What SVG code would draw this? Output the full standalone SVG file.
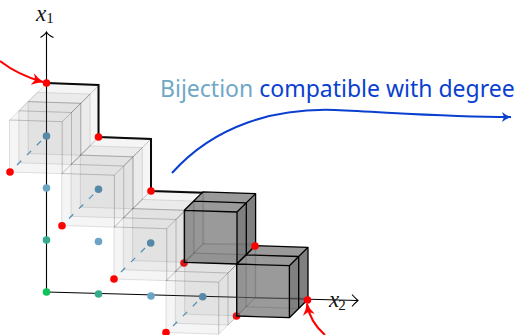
<svg xmlns="http://www.w3.org/2000/svg" width="516" height="335" viewBox="0 0 516 335">
<style>
.lf{fill:#777;fill-opacity:.04;stroke:#444;stroke-opacity:.15;stroke-width:1;stroke-linejoin:round}
.lh{fill:#777;fill-opacity:.04;stroke:none}
.dh{fill:none;stroke:#000;stroke-opacity:.13;stroke-width:1}
.df{fill:#666;fill-opacity:.66;stroke:none}
.ds{fill:#444;fill-opacity:.68;stroke:none}
.de{fill:none;stroke:#000;stroke-width:1.3;stroke-linejoin:round}
.ax{fill:none;stroke:#000;stroke-width:1.1}
.tip{fill:none;stroke:#000;stroke-width:1.1}
.red{fill:#f00}.blu{fill:#6aa5c6}.cen{fill:#4f8fb3}.tea{fill:#35ad8c}.grn{fill:#0fc35a}
.lab{font-family:"Liberation Serif",serif;font-style:italic;font-size:23px;fill:#111}
.sub{font-family:"Liberation Serif",serif;font-style:normal;font-size:15px;fill:#111}
.t{font-family:"Noto Sans",sans-serif;font-size:23px}
</style>
<defs>
<g id="lb">
<polygon class="lh" points="18.6,-18.4 71.3,-16.7 71.3,-68.7 18.6,-70.4"/>
<polygon class="lh" points="0,0 18.6,-18.4 71.3,-16.7 52.7,1.7"/>
<polygon class="lh" points="0,0 0,-52 18.6,-70.4 18.6,-18.4"/>
<polygon class="lf" points="0,-52 52.7,-50.3 71.3,-68.7 18.6,-70.4"/>
<polygon class="lf" points="52.7,1.7 71.3,-16.7 71.3,-68.7 52.7,-50.3"/>
<polygon class="lf" points="0,0 52.7,1.7 52.7,-50.3 0,-52"/>
</g>
<g id="stack">
<use href="#lb" x="18.6" y="-18.4"/>
<use href="#lb" x="9.3" y="-9.2"/>
<use href="#lb"/>
</g>
<g id="dstack">
<polygon class="df" points="0,-52 52.7,-50.3 71.3,-68.7 18.6,-70.4"/>
<polygon class="ds" points="52.7,1.7 71.3,-16.7 71.3,-68.7 52.7,-50.3"/>
<polygon class="df" points="0,0 52.7,1.7 52.7,-50.3 0,-52"/>
<path class="dh" d="M0,0 L18.6,-18.4 H71.3 M18.6,-18.4 V-70.4 M9.3,-9.2 L62,-7.5 M9.3,-9.2 V-61"/>
<path class="de" d="M0,0 L52.7,1.7 V-50.3 L0,-52 Z M0,-52 L18.6,-70.4 L71.3,-68.7 L52.7,-50.3 M71.3,-68.7 V-16.7 L52.7,1.7 M9.3,-61.2 L62,-59.5 L52.7,-50.3 M62,-59.5 V-7.5"/>
</g>
<marker id="ab" markerWidth="12" markerHeight="12" refX="10" refY="6" orient="auto" markerUnits="userSpaceOnUse"><path d="M1,1 Q5,4.5 10.5,6 Q5,7.5 1,11 L3,6Z" fill="#0a3fd0"/></marker>
<marker id="ar" markerWidth="14" markerHeight="14" refX="11" refY="7" orient="auto" markerUnits="userSpaceOnUse"><path d="M0,1 Q5,5 12,7 Q5,9 0,13 L3,7Z" fill="#f00"/></marker>
</defs>

<g id="connectors">
<path id="axis-x1" class="ax" d="M46.5,292 V33"/>
<path class="tip" d="M40.5,37.5 Q45,35 46.5,32 Q48,35 53.5,37.5"/>
<path id="axis-x2" class="ax" d="M46.5,292 L357,300.5"/>
<path class="tip" d="M352,294.5 Q355,298 358,300.5 Q355,303 352,306.5"/>
<path id="staircase" d="M46.5,83 L98.5,85 V137 L151,139 V191 L203,192.7" fill="none" stroke="#000" stroke-width="2"/>
</g>

<g id="dots-under">
<circle class="grn" cx="46.5" cy="292" r="3.8"/>
<circle class="tea" cx="46.5" cy="240" r="3.8"/>
<circle class="blu" cx="46.5" cy="188" r="3.8"/>
<circle class="tea" cx="98.5" cy="294" r="3.8"/>
<circle class="blu" cx="98.5" cy="241.5" r="3.8"/>
<circle class="blu" cx="151" cy="296" r="3.8"/>
<circle class="cen" cx="46.5" cy="136" r="3.8"/>
<circle class="cen" cx="98.5" cy="189.3" r="3.8"/>
<circle class="cen" cx="150.7" cy="243" r="3.8"/>
<circle class="cen" cx="202.7" cy="296.7" r="3.8"/>
<circle class="red" cx="184" cy="263" r="3.8"/>
<circle class="red" cx="236.5" cy="316" r="3.8"/>
</g>

<g id="light-1"><use href="#stack" x="9.5" y="172"/></g>
<g id="light-2"><use href="#stack" x="61.7" y="225.5"/></g>
<g id="light-3"><use href="#stack" x="114" y="279"/></g>
<g id="light-4"><use href="#stack" x="166" y="332.5"/></g>
<g id="dark-1"><use href="#dstack" x="184.3" y="262.3"/></g>
<g id="dark-2"><use href="#dstack" x="236.7" y="316"/></g>

<g id="dashes" fill="none" stroke="#4f8fb3" stroke-width="1.2" stroke-dasharray="6,8">
<path d="M17,165 L46,136"/><path d="M69,218.5 L98,190"/><path d="M121,272 L150,243"/><path d="M173,326 L202,297"/>
</g>

<g id="dots-over">
<circle class="red" cx="46.5" cy="83" r="3.8"/>
<circle class="red" cx="98.5" cy="137" r="3.8"/>
<circle class="red" cx="151" cy="191" r="3.8"/>
<circle class="red" cx="255" cy="246" r="3.8"/>
<circle class="red" cx="307.5" cy="300" r="3.8"/>
<circle class="red" cx="10" cy="172" r="3.8"/>
<circle class="red" cx="62" cy="225.7" r="3.8"/>
<circle class="red" cx="114" cy="279" r="3.8"/>
<circle class="red" cx="166" cy="332.5" r="3.8"/>
</g>

<g id="arrows">
<path d="M0,61 Q18,75 43,82" fill="none" stroke="#f00" stroke-width="2" marker-end="url(#ar)"/>
<path d="M325,335 Q310,322 307,304" fill="none" stroke="#f00" stroke-width="2" marker-end="url(#ar)"/>
<path d="M172,173 C215,125 275,108 335,110 C400,113 450,117 511,117" fill="none" stroke="#0a3fd0" stroke-width="2" marker-end="url(#ab)"/>
</g>

<g id="labels">
<text class="lab" x="36" y="21">x<tspan class="sub" dy="2">1</tspan></text>
<text class="lab" x="329" y="307">x<tspan class="sub" dy="3" dx="-1">2</tspan></text>
<text class="t" x="160" y="97"><tspan fill="#6fa8c7">Bijection</tspan> <tspan fill="#0a3fd0">compatible with degree</tspan></text>
</g>
</svg>
